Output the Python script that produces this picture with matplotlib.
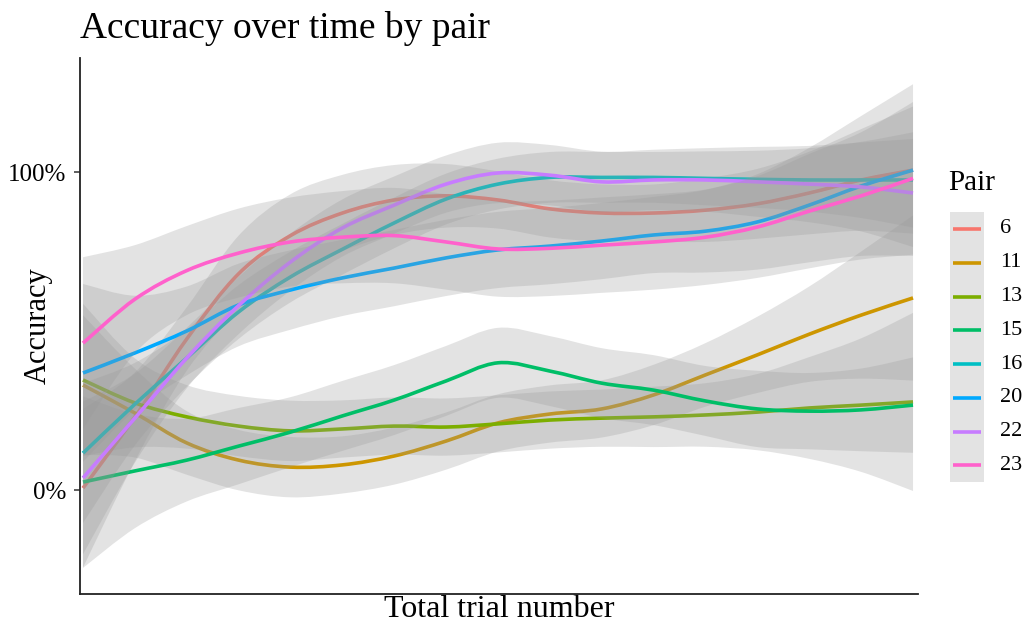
import matplotlib
matplotlib.use("Agg")
import matplotlib.pyplot as plt
from matplotlib.patches import Rectangle, PathPatch
from matplotlib.lines import Line2D
from matplotlib.path import Path

plt.rcParams["font.family"] = ["Liberation Serif", "DejaVu Serif"]

# Smoothed accuracy (loess fit) per pair along the session
trial = [0, 50, 100, 150, 200, 250, 300, 350, 400, 450, 500, 550, 600, 650, 700, 750, 800]

pairs = ["6", "11", "13", "15", "16", "20", "22", "23"]
colors = ["#F8766D", "#CD9600", "#7CAE00", "#00BE67", "#00BFC4", "#00A9FF", "#C77CFF", "#FF61CC"]

fit_6 = [0.006, 0.23, 0.475, 0.68, 0.80, 0.871, 0.912, 0.925, 0.912, 0.884, 0.871, 0.871, 0.88, 0.90, 0.934, 0.975, 1.006]
fit_11 = [0.33, 0.242, 0.148, 0.094, 0.072, 0.079, 0.107, 0.154, 0.211, 0.239, 0.255, 0.299, 0.362, 0.425, 0.49, 0.55, 0.604]
fit_13 = [0.346, 0.274, 0.23, 0.201, 0.186, 0.192, 0.201, 0.198, 0.208, 0.22, 0.226, 0.23, 0.236, 0.245, 0.258, 0.267, 0.277]
fit_15 = [0.025, 0.06, 0.094, 0.138, 0.182, 0.233, 0.283, 0.343, 0.40, 0.374, 0.336, 0.314, 0.28, 0.255, 0.248, 0.252, 0.267]
fit_16 = [0.116, 0.27, 0.415, 0.56, 0.67, 0.757, 0.84, 0.915, 0.962, 0.983, 0.983, 0.983, 0.98, 0.977, 0.975, 0.975, 0.975]
fit_20 = [0.368, 0.431, 0.50, 0.582, 0.629, 0.667, 0.698, 0.73, 0.755, 0.767, 0.783, 0.802, 0.814, 0.843, 0.896, 0.956, 1.006]
fit_22 = [0.038, 0.226, 0.415, 0.58, 0.717, 0.824, 0.896, 0.962, 0.997, 0.99, 0.969, 0.975, 0.975, 0.969, 0.962, 0.953, 0.934]
fit_23 = [0.462, 0.60, 0.69, 0.745, 0.78, 0.795, 0.80, 0.78, 0.758, 0.76, 0.77, 0.78, 0.795, 0.827, 0.877, 0.925, 0.98]

# Half-width of the 95% confidence band around each fit
se_6 = [0.25, 0.14, 0.10, 0.12, 0.13, 0.12, 0.11, 0.10, 0.09, 0.09, 0.09, 0.09, 0.10, 0.11, 0.13, 0.16, 0.20]
se_11 = [0.22, 0.14, 0.10, 0.095, 0.095, 0.09, 0.09, 0.09, 0.09, 0.09, 0.09, 0.095, 0.10, 0.12, 0.15, 0.20, 0.26]
se_13 = [0.24, 0.14, 0.10, 0.095, 0.095, 0.09, 0.09, 0.09, 0.09, 0.09, 0.09, 0.095, 0.10, 0.12, 0.16, 0.21, 0.28]
se_15 = [0.27, 0.18, 0.13, 0.12, 0.11, 0.11, 0.11, 0.11, 0.11, 0.11, 0.11, 0.11, 0.11, 0.12, 0.12, 0.13, 0.15]
se_16 = [0.22, 0.13, 0.09, 0.085, 0.08, 0.08, 0.08, 0.08, 0.08, 0.08, 0.08, 0.08, 0.085, 0.09, 0.10, 0.12, 0.15]
se_20 = [0.28, 0.18, 0.14, 0.13, 0.125, 0.12, 0.12, 0.12, 0.12, 0.12, 0.12, 0.12, 0.13, 0.15, 0.18, 0.22, 0.27]
se_22 = [0.24, 0.14, 0.095, 0.09, 0.09, 0.09, 0.09, 0.09, 0.095, 0.095, 0.095, 0.095, 0.10, 0.11, 0.12, 0.14, 0.17]
se_23 = [0.27, 0.17, 0.14, 0.14, 0.14, 0.145, 0.15, 0.15, 0.15, 0.15, 0.15, 0.15, 0.15, 0.16, 0.18, 0.20, 0.24]

fits = [fit_6, fit_11, fit_13, fit_15, fit_16, fit_20, fit_22, fit_23]
ses = [se_6, se_11, se_13, se_15, se_16, se_20, se_22, se_23]

ytick_vals = [0, 1]
ytick_labels = ["0%", "100%"]

band_color = "#999999"
band_alpha = 0.27
line_w = 2.6


def curve_segments(xs, ys):
    """Cubic Bezier control points passing through every (x, y) pair."""
    n = len(xs)
    verts = []
    for i in range(n - 1):
        i0, i3 = max(i - 1, 0), min(i + 2, n - 1)
        c1 = (xs[i] + (xs[i + 1] - xs[i0]) / 6, ys[i] + (ys[i + 1] - ys[i0]) / 6)
        c2 = (xs[i + 1] - (xs[i3] - xs[i]) / 6, ys[i + 1] - (ys[i3] - ys[i]) / 6)
        verts += [c1, c2, (xs[i + 1], ys[i + 1])]
    return verts


def curve_path(xs, ys):
    verts = [(xs[0], ys[0])] + curve_segments(xs, ys)
    codes = [Path.MOVETO] + [Path.CURVE4] * (len(verts) - 1)
    return Path(verts, codes)


def band_path(xs, lo, hi):
    top = [(xs[0], hi[0])] + curve_segments(xs, hi)
    rx, rlo = xs[::-1], lo[::-1]
    bottom = [(rx[0], rlo[0])] + curve_segments(rx, rlo)
    verts = top + bottom + [(xs[0], hi[0])]
    codes = ([Path.MOVETO] + [Path.CURVE4] * (len(top) - 1)
             + [Path.LINETO] + [Path.CURVE4] * (len(bottom) - 1) + [Path.CLOSEPOLY])
    return Path(verts, codes)


fig = plt.figure(figsize=(10.24, 6.28), dpi=100)
ax = fig.add_axes([80 / 1024, 34 / 628, 838 / 1024, 536 / 628])

# Each pair: band first, then its line, so later bands veil earlier lines
z = 2
for fit, se, col in zip(fits, ses, colors):
    lo = [f - s for f, s in zip(fit, se)]
    hi = [f + s for f, s in zip(fit, se)]
    ax.add_patch(PathPatch(band_path(trial, lo, hi), facecolor=band_color,
                           alpha=band_alpha, lw=0, zorder=z))
    ax.add_patch(PathPatch(curve_path(trial, fit), facecolor="none", edgecolor=col,
                           lw=line_w, capstyle="butt", zorder=z + 1))
    z += 2

ax.set_xlim(-2.9, 804.8)
ax.set_ylim(-0.327, 1.3585)
ax.set_xticks([])
ax.set_yticks(ytick_vals)
ax.set_yticklabels(ytick_labels, fontsize=18)
ax.tick_params(axis="y", length=4, width=1.1, color="#333333", pad=6)
for side in ("top", "right"):
    ax.spines[side].set_visible(False)
for side in ("left", "bottom"):
    ax.spines[side].set_linewidth(1.3)
    ax.spines[side].set_color("#222222")

ax.set_xlabel("Total trial number", fontsize=23, labelpad=1)
ax.set_ylabel("Accuracy", fontsize=22)
ax.yaxis.set_label_coords(-0.033, 0.5)
fig.text(80 / 1024, 1 - 28 / 628, "Accuracy over time by pair", fontsize=27,
         ha="left", va="center")

# Legend: grey key strip with one coloured stroke per pair
fig.text(948 / 1024, 1 - 183 / 628, "Pair", fontsize=21, ha="left", va="center")
key_h = 33.8
key_top = 212
for i, (name, col) in enumerate(zip(pairs, colors)):
    top = key_top + i * key_h
    fig.patches.append(Rectangle((950 / 1024, 1 - (top + key_h) / 628), 34 / 1024, key_h / 628,
                                 transform=fig.transFigure, facecolor=band_color,
                                 alpha=band_alpha, edgecolor="none"))
    yc = 1 - (top + key_h / 2) / 628
    fig.lines.append(Line2D([953 / 1024, 981 / 1024], [yc, yc], transform=fig.transFigure,
                            color=col, lw=line_w, solid_capstyle="butt"))
    fig.text(1000 / 1024, yc, name, fontsize=16, ha="left", va="center")

fig.savefig("out.png", dpi=100, facecolor="white")
